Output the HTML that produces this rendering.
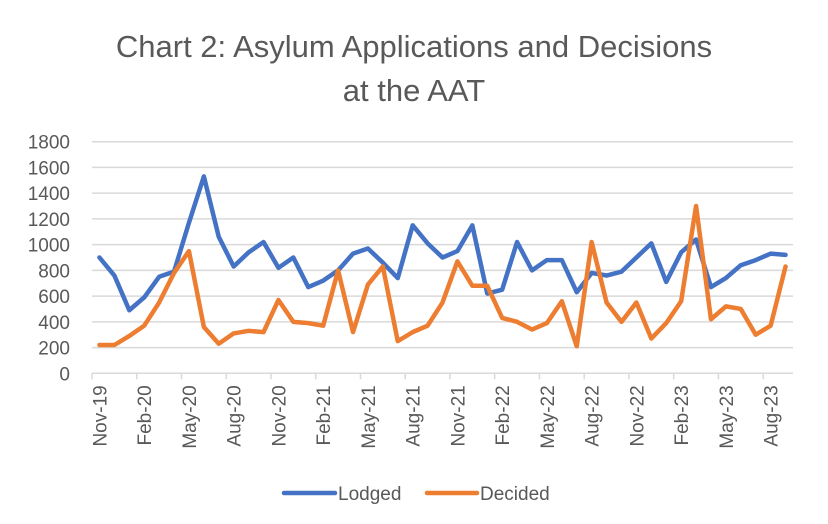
<!DOCTYPE html>
<html><head><style>
body{margin:0;background:#fff;}
svg{display:block;font-family:"Liberation Sans",sans-serif;}
</style></head><body>
<svg id="s" width="828" height="524" viewBox="0 0 828 524" xmlns="http://www.w3.org/2000/svg">
<rect width="828" height="524" fill="#fff"/>
<text x="414" y="57" text-anchor="middle" font-size="31" fill="#595959">Chart 2: Asylum Applications and Decisions</text>
<text x="414" y="101" text-anchor="middle" font-size="31" fill="#595959">at the AAT</text>
<g id="grid"></g>
<g id="ylab" font-size="19" fill="#595959" text-anchor="end"></g>
<g id="xlab" font-size="19" fill="#595959"></g>
<polyline id="l1" fill="none" stroke="#4472C4" stroke-width="4.5" stroke-linejoin="round" stroke-linecap="round"/>
<polyline id="l2" fill="none" stroke="#ED7D31" stroke-width="4.5" stroke-linejoin="round" stroke-linecap="round"/>
<line x1="284" y1="493" x2="335" y2="493" stroke="#4472C4" stroke-width="4.5" stroke-linecap="round"/>
<text x="338" y="500" font-size="19" fill="#595959">Lodged</text>
<line x1="427" y1="493" x2="477" y2="493" stroke="#ED7D31" stroke-width="4.5" stroke-linecap="round"/>
<text x="480" y="500" font-size="19" fill="#595959">Decided</text>
</svg>
<script>
var L=[900,760,490,590,750,790,1170,1530,1060,830,940,1020,820,900,670,720,800,930,970,860,740,1150,1010,900,950,1150,620,650,1020,800,880,880,630,780,760,790,900,1010,710,940,1040,670,740,840,880,930,920];
var D=[220,220,290,370,550,780,950,360,230,310,330,320,570,400,390,370,800,320,690,830,250,320,370,550,870,680,680,430,400,340,390,560,210,1020,550,400,550,270,390,560,1300,420,520,500,300,370,830];
var x0=92,x1=793,y0=373.3,y1=141.7,n=47,w=(x1-x0)/n;
function Y(v){return y0-(y0-y1)*v/1800}
function X(i){return x0+w*(i+0.5)}
var ns="http://www.w3.org/2000/svg",g=document.getElementById('grid'),yl=document.getElementById('ylab'),xl=document.getElementById('xlab');
function el(t,a,p){var e=document.createElementNS(ns,t);for(var k in a)e.setAttribute(k,a[k]);p.appendChild(e);return e}
for(var v=0;v<=1800;v+=200){var y=Y(v);el('line',{x1:x0,x2:x1,y1:y,y2:y,stroke:'#d9d9d9','stroke-width':1.5},g);var t=el('text',{x:70,y:y+7},yl);t.textContent=v;}
var mons=['Nov','Feb','May','Aug'];
for(var i=0;i<16;i++){var tx=x0+w*3*i;el('line',{x1:tx,x2:tx,y1:y0,y2:y0+6,stroke:'#d9d9d9','stroke-width':1.5},g);
var yr=19+Math.floor((i+3)/4);var lab=mons[i%4]+'-'+yr;
var t=el('text',{x:0,y:0,'text-anchor':'end',transform:'translate('+(X(3*i)+7)+','+(y0+12)+') rotate(-90)'},xl);t.textContent=lab;}
document.getElementById('l1').setAttribute('points',L.map(function(v,i){return X(i)+','+Y(v)}).join(' '));
document.getElementById('l2').setAttribute('points',D.map(function(v,i){return X(i)+','+Y(v)}).join(' '));
</script>
</body></html>
